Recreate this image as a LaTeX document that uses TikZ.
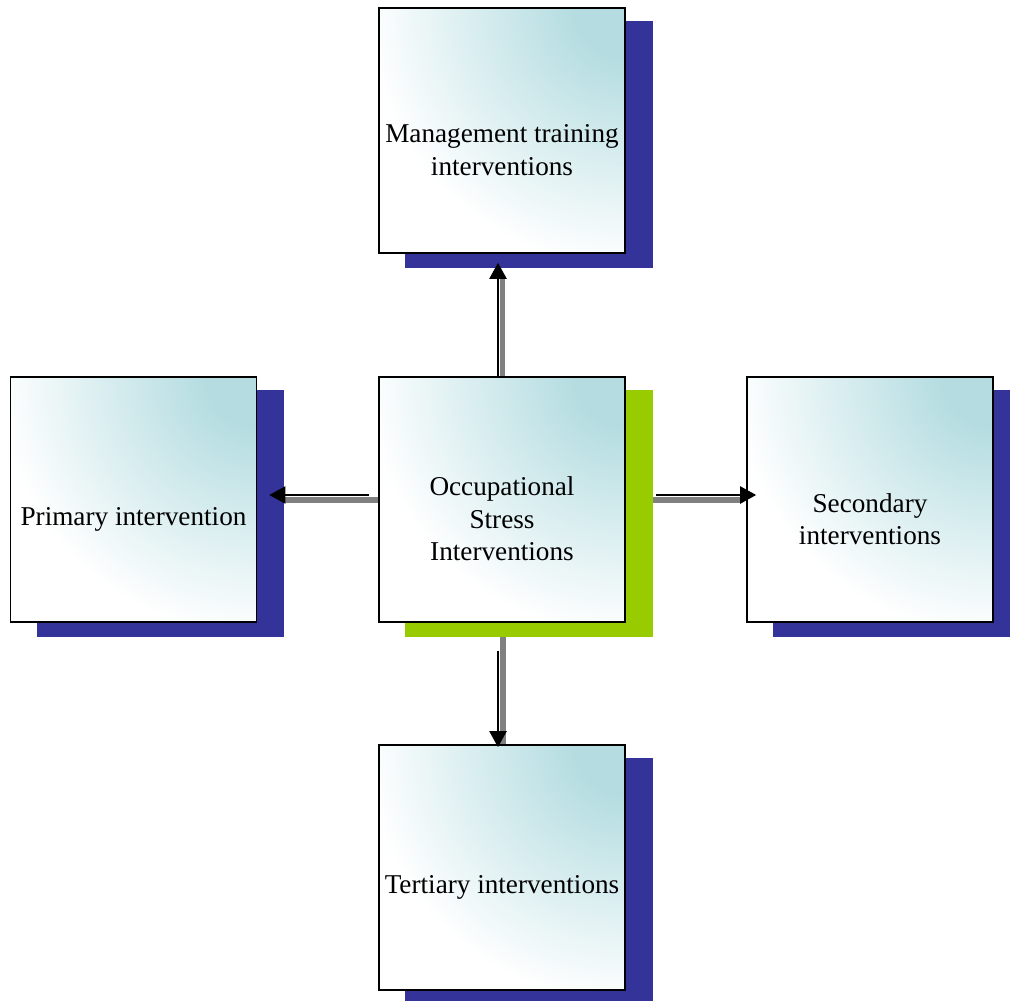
\documentclass[tikz,border=0pt]{standalone}
\usepackage{fontspec}
\setmainfont{Liberation Serif}
\usetikzlibrary{backgrounds,arrows.meta}
\definecolor{boxteal}{RGB}{181,221,225}
\definecolor{shadowblue}{RGB}{51,51,153}
\definecolor{shadowgreen}{RGB}{153,204,0}
\definecolor{arrowgray}{RGB}{128,128,128}
\pgfdeclareradialshading{tealglow}{\pgfpoint{0bp}{0bp}}{color(0bp)=(boxteal); color(5bp)=(boxteal); color(25bp)=(white); color(50bp)=(white)}
\begin{document}
\begin{tikzpicture}[x=1pt,y=-1pt,
  box/.style={draw=black, line width=1.6pt, fill=white, minimum width=246pt, minimum height=245pt, inner sep=0pt,
    path picture={\shade[shading=tealglow] (path picture bounding box.north east) circle (258pt);}},
  lbl/.style={font=\fontsize{27.2}{32.5}\selectfont, align=center, inner sep=0pt},
  arr/.style={line width=2.2pt, -{Triangle[length=16pt,width=17pt]}},
  arrshadow/.style={draw=arrowgray, line width=5.5pt}]
\useasboundingbox (0,0) rectangle (1010,1001);
\node[box] (top) at (502,130.5) {};
\node[box] (ctr) at (502,499.5) {};
\node[box] (left) at (133.5,499.5) {};
\node[box] (right) at (870,499.5) {};
\node[box] (bot) at (502,867.5) {};
\node[lbl] (toptext) at ([yshift=-19.5pt]top.center) {Management training\\interventions};
\node[lbl] (ctrtext) at ([yshift=-19.5pt]ctr.center) {Occupational\\Stress\\Interventions};
\node[lbl] (lefttext) at ([yshift=-19.5pt]left.center) {Primary intervention};
\node[lbl] (righttext) at ([yshift=-19.5pt]right.center) {Secondary\\interventions};
\node[lbl] (bottext) at ([yshift=-19.5pt]bot.center) {Tertiary interventions};
\begin{scope}[on background layer]
\foreach \n/\c in {top/shadowblue, left/shadowblue, right/shadowblue, bot/shadowblue, ctr/shadowgreen}
  \fill[\c] ([shift={(27,14)}]\n.south west) rectangle ([shift={(27,14)}]\n.north east);
\end{scope}
% arrow shadows
\draw[arrshadow] ([xshift=0.5pt]ctr.north) -- ([xshift=0.5pt,yshift=-24pt]top.south);
\draw[arrshadow] ([yshift=-0.5pt]ctr.west) -- ([xshift=27pt,yshift=-0.5pt]left.east);
\draw[arrshadow] ([xshift=27pt,yshift=-0.5pt]ctr.east) -- ([xshift=-6pt,yshift=-0.5pt]right.west);
\draw[arrshadow] ([xshift=1pt,yshift=-14pt]ctr.south) -- ([xshift=1pt]bot.north);
% arrows
\draw[arr] ([xshift=-4pt]ctr.north) -- ([xshift=-4pt,yshift=-9pt]top.south);
\draw[arr] ([xshift=-9pt,yshift=4.5pt]ctr.west) -- ([xshift=12pt,yshift=4.5pt]left.east);
\draw[arr] ([xshift=30pt,yshift=4.5pt]ctr.east) -- ([xshift=10pt,yshift=4.5pt]right.west);
\draw[arr] ([xshift=-4pt,yshift=-28pt]ctr.south) -- ([xshift=-4pt,yshift=-3pt]bot.north);
\end{tikzpicture}
\end{document}
